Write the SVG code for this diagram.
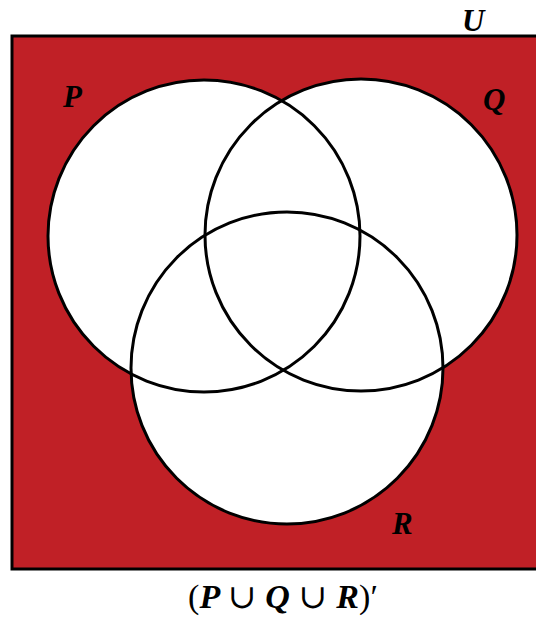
<svg xmlns="http://www.w3.org/2000/svg" width="536" height="617" viewBox="0 0 536 617">
<style>
.lbl{font-family:"Liberation Serif","DejaVu Serif",serif;font-style:italic;font-weight:bold;font-size:31px;fill:#000}
.cap{font-size:34px}
.up{font-style:normal;font-weight:normal}
.c{fill:#fff;stroke:none}
.o{fill:none;stroke:#000;stroke-width:3}
</style>
<rect width="536" height="617" fill="#fff"/>
<g id="universe">
<rect x="12" y="36" width="530" height="533" fill="#c02026" stroke="#000" stroke-width="3"/>
</g>
<g id="fills">
<circle class="c" cx="204" cy="236" r="156"/>
<circle class="c" cx="361" cy="235" r="156"/>
<circle class="c" cx="287" cy="368" r="156"/>
</g>
<g id="P"><circle class="o" cx="204" cy="236" r="156"/><text class="lbl" x="63" y="107">P</text></g>
<g id="Q"><circle class="o" cx="361" cy="235" r="156"/><text class="lbl" x="483" y="110">Q</text></g>
<g id="R"><circle class="o" cx="287" cy="368" r="156"/><text class="lbl" x="392" y="534">R</text></g>
<g id="U"><text class="lbl" x="462" y="31">U</text></g>
<g id="caption"><text class="lbl cap" x="283" y="608" text-anchor="middle" textLength="190" lengthAdjust="spacing"><tspan class="up">(</tspan>P <tspan class="up">∪</tspan> Q <tspan class="up">∪</tspan> R<tspan class="up">)′</tspan></text></g>
</svg>
